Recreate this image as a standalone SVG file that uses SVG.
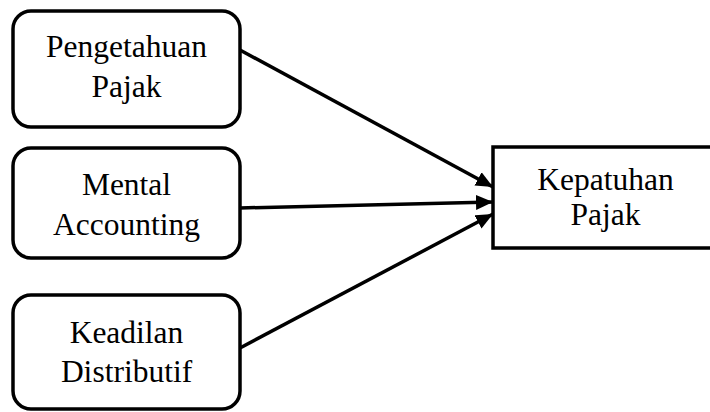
<svg xmlns="http://www.w3.org/2000/svg" width="710" height="412" viewBox="0 0 710 412">
<style>
.box{fill:#fff;stroke:#000;stroke-width:3.5}
.t{font-family:"Liberation Serif","Times New Roman",serif;font-size:31.5px;fill:#000;text-anchor:middle}
.c{stroke:#000;stroke-width:3.5;fill:none;marker-end:url(#ah)}
</style>
<defs>
<marker id="ah" markerUnits="userSpaceOnUse" markerWidth="18" markerHeight="16" refX="17" refY="8" orient="auto">
<path d="M0,0.5 L17,8 L0,15.5 z" fill="#000"/>
</marker>
</defs>
<g id="connectors">
<line class="c" x1="240" y1="50" x2="493" y2="187"/>
<line class="c" x1="240" y1="208" x2="493" y2="202"/>
<line class="c" x1="240" y1="348" x2="493" y2="214"/>
</g>
<g id="pengetahuan">
<rect class="box" x="13" y="11" width="227" height="116" rx="18"/>
<text class="t" x="126.5" y="57">Pengetahuan</text>
<text class="t" x="126.5" y="97">Pajak</text>
</g>
<g id="mental">
<rect class="box" x="13" y="148" width="227" height="110" rx="18"/>
<text class="t" x="126.5" y="195">Mental</text>
<text class="t" x="126.5" y="235">Accounting</text>
</g>
<g id="keadilan">
<rect class="box" x="13" y="295" width="227" height="114" rx="18"/>
<text class="t" x="126.5" y="343">Keadilan</text>
<text class="t" x="126.5" y="382">Distributif</text>
</g>
<g id="kepatuhan">
<rect class="box" x="493" y="147" width="225" height="101"/>
<text class="t" x="605.5" y="190">Kepatuhan</text>
<text class="t" x="605.5" y="225">Pajak</text>
</g>
</svg>
